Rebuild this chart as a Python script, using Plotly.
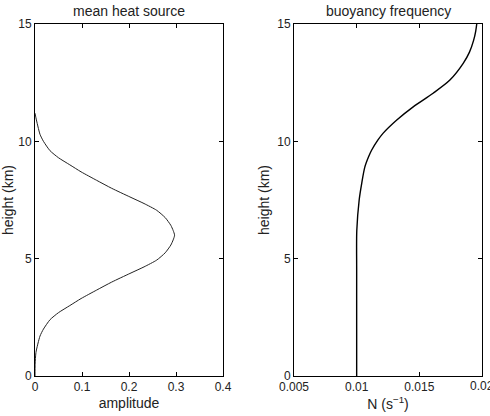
import plotly.graph_objects as go

# mean heat source: height (km) vs amplitude
heat_height = [0.0, 0.5, 1.0, 1.7, 2.0, 2.4, 2.7, 3.0, 3.3, 3.66, 4.0, 4.37, 4.65, 4.94, 5.25, 5.58, 5.8, 6.0,
               6.2, 6.42, 6.75, 7.06, 7.35, 7.63, 8.0, 8.34, 8.7, 9.0, 9.3, 9.6, 10.0, 10.3, 11.0, 11.2]
heat_amp = [0.0, 0.0003, 0.002, 0.0106, 0.018, 0.032, 0.05, 0.074, 0.098, 0.131, 0.163, 0.202, 0.232, 0.259, 0.277, 0.289, 0.294, 0.297,
            0.294, 0.289, 0.277, 0.259, 0.232, 0.202, 0.163, 0.131, 0.098, 0.074, 0.05, 0.032, 0.018, 0.0106, 0.002, 0.0]

# buoyancy frequency: height (km) vs N (1/s)
bv_height = [0.0, 2.0, 4.5, 6.2, 7.5, 8.2, 8.9, 9.34, 9.63, 10.06, 10.34, 10.91, 11.47, 12.05, 12.61, 13.32, 13.8, 14.3, 14.7, 15.0]
bv_N = [0.0100, 0.0100, 0.0100, 0.01001, 0.0102, 0.0104, 0.01065, 0.01095, 0.0112, 0.0117, 0.0121, 0.0132, 0.01451, 0.0161, 0.01744,
        0.0185, 0.0190, 0.01933, 0.0195, 0.01958]

left_xticks = [0, 0.1, 0.2, 0.3, 0.4]
right_xticks = [0.005, 0.01, 0.015, 0.02]
right_xlabels = ["0.005", "0.01", "0.015", "0.02"]
yticks = [0, 5, 10, 15]

FONT = "Liberation Sans, Arial, sans-serif"
TICK = 12
LAB = 14

fig = go.Figure()
fig.add_trace(go.Scatter(x=heat_amp, y=heat_height, mode="lines", line=dict(color="#222", width=1, shape="spline", smoothing=0.6),
                         xaxis="x", yaxis="y", showlegend=False))
fig.add_trace(go.Scatter(x=bv_N, y=bv_height, mode="lines", line=dict(color="black", width=1.4, shape="spline", smoothing=0.8),
                         xaxis="x2", yaxis="y2", showlegend=False))

axis_common = dict(showline=True, linecolor="black", linewidth=1, mirror="ticks", ticks="inside", ticklen=4,
                   tickcolor="black", showgrid=False, zeroline=False, automargin=False,
                   tickfont=dict(family=FONT, size=TICK, color="#222"))

fig.update_layout(
    width=490, height=416,
    margin=dict(l=0, r=0, t=0, b=0),
    paper_bgcolor="white", plot_bgcolor="white",
    font=dict(family=FONT, color="#222"),
    xaxis=dict(domain=[35/490, 223/490], range=[0, 0.4], tickvals=left_xticks, ticktext=["0", "0.1", "0.2", "0.3", "0.4"],
               anchor="y", title=dict(text="amplitude", font=dict(size=LAB), standoff=4), **axis_common),
    yaxis=dict(domain=[1-376/416, 1-24/416], range=[0, 15], tickvals=yticks, anchor="x",
               title=dict(text="height (km)", font=dict(size=LAB), standoff=4), **axis_common),
    xaxis2=dict(domain=[294/490, 482/490], range=[0.005, 0.02], tickvals=right_xticks, ticktext=right_xlabels[:3] + [""],
                anchor="y2", title=dict(text="N (s<sup>−1</sup>)", font=dict(size=LAB), standoff=2), **axis_common),
    yaxis2=dict(domain=[1-376/416, 1-24/416], range=[0, 15], tickvals=yticks, anchor="x2",
                title=dict(text="height (km)", font=dict(size=LAB), standoff=4), **axis_common),
    annotations=[
        dict(text="mean heat source", x=129/490, y=1-11/416, xref="paper", yref="paper", showarrow=False,
             font=dict(size=LAB, family=FONT, color="#222"), xanchor="center", yanchor="middle"),
        dict(text="buoyancy frequency", x=388/490, y=1-11/416, xref="paper", yref="paper", showarrow=False,
             font=dict(size=LAB, family=FONT, color="#222"), xanchor="center", yanchor="middle"),
        dict(text=right_xlabels[3], x=right_xticks[3], y=1-386/416, xref="x2", yref="paper", showarrow=False,
             font=dict(size=TICK, family=FONT, color="#222"), xanchor="center", yanchor="middle"),
    ],
)

fig.write_html("out.html")
